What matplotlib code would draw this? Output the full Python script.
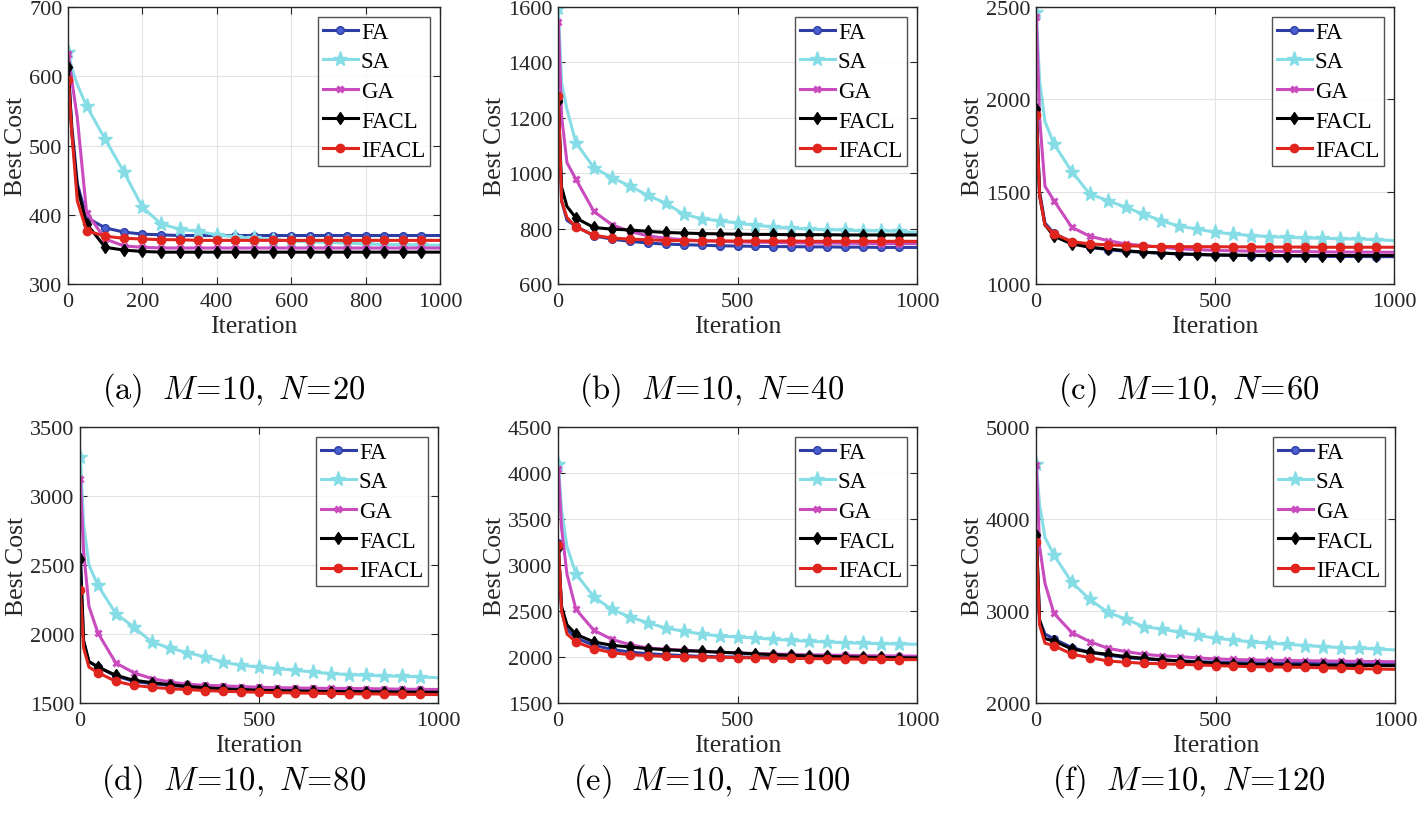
import matplotlib
matplotlib.use("Agg")
import matplotlib.pyplot as plt

plt.rcParams['font.family'] = ['Liberation Serif', 'DejaVu Serif']
plt.rcParams['mathtext.fontset'] = 'cm'

iterations = [1, 10, 25, 50, 100, 150, 200, 250, 300, 350, 400, 450, 500,
              550, 600, 650, 700, 750, 800, 850, 900, 950, 1000]
algorithms = ["FA", "SA", "GA", "FACL", "IFACL"]

# Panel (a) M=10, N=20
a_FA = [605, 530, 445, 396, 381, 375, 372, 371, 370, 370, 370, 370, 370, 370, 370, 370, 370, 370, 370, 370, 370, 370, 370]
a_SA = [635, 612, 588, 557, 509, 462, 411, 387, 379, 376, 371, 368, 366, 364, 362, 361, 360, 359, 358, 357, 357, 356, 356]
a_GA = [632, 595, 540, 403, 365, 355, 353, 352, 352, 352, 352, 352, 352, 352, 352, 352, 352, 352, 352, 352, 352, 352, 352]
a_FACL = [613, 520, 440, 387, 353, 349, 347, 346, 346, 346, 346, 346, 346, 346, 346, 346, 346, 346, 346, 346, 346, 346, 346]
a_IFACL = [595, 520, 420, 377, 369, 366, 365, 364, 364, 363, 363, 363, 363, 363, 363, 363, 363, 363, 363, 363, 363, 363, 363]

# Panel (b) M=10, N=40
b_FA = [1260, 900, 830, 808, 774, 762, 754, 748, 744, 742, 740, 738, 737, 736, 735, 735, 734, 734, 733, 733, 732, 732, 732]
b_SA = [1596, 1326, 1230, 1110, 1020, 984, 954, 920, 892, 852, 836, 828, 820, 812, 806, 802, 798, 796, 795, 792, 792, 790, 786]
b_GA = [1545, 1206, 1038, 978, 862, 814, 790, 774, 765, 760, 756, 754, 752, 751, 750, 749, 748, 748, 747, 747, 746, 746, 746]
b_FACL = [1260, 950, 880, 838, 804, 798, 795, 790, 786, 784, 782, 781, 780, 779, 779, 778, 778, 778, 777, 777, 777, 777, 777]
b_IFACL = [1278, 900, 840, 806, 776, 766, 762, 760, 757, 757, 756, 756, 755, 755, 755, 755, 754, 754, 754, 754, 754, 754, 754]

# Panel (c) M=10, N=60
c_FA = [1922, 1500, 1330, 1275, 1226, 1199, 1186, 1177, 1172, 1167, 1163, 1160, 1157, 1156, 1154, 1153, 1152, 1151, 1150, 1149, 1149, 1148, 1148]
c_SA = [2473, 2100, 1880, 1759, 1609, 1488, 1452, 1416, 1379, 1343, 1313, 1298, 1280, 1271, 1262, 1257, 1253, 1249, 1248, 1244, 1244, 1240, 1235]
c_GA = [2446, 1900, 1530, 1452, 1307, 1259, 1235, 1217, 1208, 1199, 1190, 1186, 1182, 1180, 1178, 1177, 1176, 1175, 1174, 1173, 1173, 1172, 1172]
c_FACL = [1949, 1480, 1320, 1259, 1217, 1199, 1190, 1181, 1172, 1168, 1163, 1160, 1157, 1156, 1155, 1155, 1154, 1154, 1154, 1154, 1154, 1154, 1154]
c_IFACL = [1913, 1480, 1320, 1271, 1230, 1217, 1212, 1208, 1204, 1203, 1202, 1202, 1202, 1201, 1201, 1200, 1200, 1200, 1199, 1199, 1199, 1199, 1199]

# Panel (d) M=10, N=80
d_FA = [2558, 1950, 1800, 1761, 1696, 1657, 1640, 1628, 1616, 1609, 1603, 1598, 1594, 1591, 1589, 1587, 1586, 1585, 1584, 1583, 1582, 1582, 1582]
d_SA = [3283, 2800, 2500, 2353, 2148, 2051, 1942, 1899, 1865, 1834, 1797, 1773, 1761, 1749, 1737, 1725, 1713, 1706, 1701, 1696, 1694, 1689, 1683]
d_GA = [3121, 2600, 2200, 2008, 1790, 1720, 1677, 1653, 1636, 1628, 1624, 1619, 1614, 1611, 1609, 1607, 1606, 1605, 1604, 1602, 1600, 1599, 1598]
d_FACL = [2546, 1950, 1800, 1761, 1701, 1665, 1648, 1633, 1620, 1610, 1602, 1597, 1592, 1589, 1587, 1585, 1583, 1582, 1581, 1580, 1579, 1578, 1578]
d_IFACL = [2317, 1900, 1760, 1720, 1657, 1628, 1614, 1604, 1597, 1590, 1585, 1581, 1578, 1575, 1573, 1571, 1569, 1567, 1566, 1565, 1563, 1562, 1561]

# Panel (e) M=10, N=100
e_FA = [3243, 2500, 2300, 2207, 2127, 2083, 2054, 2036, 2025, 2015, 2007, 2003, 2000, 1997, 1995, 1993, 1991, 1989, 1988, 1987, 1986, 1985, 1985]
e_SA = [4101, 3600, 3200, 2906, 2652, 2518, 2435, 2373, 2315, 2279, 2250, 2228, 2217, 2207, 2192, 2181, 2170, 2163, 2156, 2149, 2145, 2142, 2138]
e_GA = [4040, 3400, 2900, 2518, 2290, 2192, 2134, 2098, 2083, 2073, 2062, 2053, 2044, 2038, 2033, 2028, 2024, 2021, 2018, 2015, 2013, 2011, 2010]
e_FACL = [3185, 2550, 2350, 2247, 2163, 2127, 2109, 2091, 2080, 2070, 2062, 2052, 2044, 2034, 2025, 2018, 2011, 2006, 2002, 1998, 1995, 1992, 1990]
e_IFACL = [3214, 2500, 2250, 2163, 2091, 2047, 2025, 2015, 2007, 2003, 2000, 1996, 1993, 1990, 1988, 1985, 1983, 1980, 1978, 1976, 1974, 1972, 1971]

# Panel (f) M=10, N=120
f_FA = [3824, 2900, 2750, 2696, 2602, 2551, 2522, 2493, 2479, 2467, 2457, 2450, 2443, 2439, 2436, 2434, 2432, 2430, 2428, 2426, 2424, 2422, 2421]
f_SA = [4602, 4150, 3800, 3607, 3311, 3126, 2985, 2913, 2830, 2804, 2770, 2735, 2703, 2685, 2663, 2649, 2638, 2624, 2613, 2602, 2595, 2587, 2577]
f_GA = [4591, 3700, 3300, 2975, 2765, 2667, 2595, 2559, 2530, 2512, 2504, 2490, 2479, 2473, 2468, 2465, 2462, 2459, 2457, 2454, 2452, 2450, 2449]
f_FACL = [3824, 2900, 2700, 2674, 2587, 2551, 2530, 2504, 2486, 2470, 2457, 2444, 2432, 2425, 2420, 2416, 2414, 2412, 2410, 2409, 2408, 2407, 2406]
f_IFACL = [3745, 2850, 2650, 2624, 2530, 2493, 2457, 2443, 2432, 2426, 2421, 2414, 2407, 2400, 2395, 2392, 2390, 2387, 2382, 2378, 2373, 2369, 2366]

captions = [r"$\mathrm{(a)}\ \ M\!=\!10,\ N\!=\!20$", r"$\mathrm{(b)}\ \ M\!=\!10,\ N\!=\!40$",
            r"$\mathrm{(c)}\ \ M\!=\!10,\ N\!=\!60$", r"$\mathrm{(d)}\ \ M\!=\!10,\ N\!=\!80$",
            r"$\mathrm{(e)}\ \ M\!=\!10,\ N\!=\!100$", r"$\mathrm{(f)}\ \ M\!=\!10,\ N\!=\!120$"]

panels = [
    [a_FA, a_SA, a_GA, a_FACL, a_IFACL],
    [b_FA, b_SA, b_GA, b_FACL, b_IFACL],
    [c_FA, c_SA, c_GA, c_FACL, c_IFACL],
    [d_FA, d_SA, d_GA, d_FACL, d_IFACL],
    [e_FA, e_SA, e_GA, e_FACL, e_IFACL],
    [f_FA, f_SA, f_GA, f_FACL, f_IFACL],
]
y_ranges = [(300, 700, 100), (600, 1600, 200), (1000, 2500, 500),
            (1500, 3500, 500), (1500, 4500, 500), (2000, 5000, 1000)]
x_steps = [200, 500, 500, 500, 500, 500]

styles = [
    dict(color="#2e3da3", marker="o", ms=5.5, mfc="#4a5fd0", mec="#2e3da3"),
    dict(color="#86dde6", marker="*", ms=11, mfc="#86dde6", mec="#86dde6"),
    dict(color="#c94bbd", marker="x", ms=4.5, mew=2.2, mec="#c94bbd"),
    dict(color="#000000", marker="d", ms=6.5, mfc="#000000", mec="#000000"),
    dict(color="#e0251e", marker="o", ms=6, mfc="#e0251e", mec="#e0251e"),
]

W, H = 1418, 829
fig = plt.figure(figsize=(W / 100, H / 100), dpi=100)

# axes boxes in pixels: left, right, top, bottom
boxes = [(68, 440, 8, 285), (558, 917, 8, 285), (1036, 1394, 8, 285),
         (80, 438, 428, 704), (558, 917, 428, 704), (1036, 1395, 428, 704)]
cap_pos = [(234, 390), (712, 390), (1189, 390), (234, 781), (712, 781), (1189, 781)]

mark_idx = [0] + list(range(3, 22))

# caption font size chosen so that caption (a) is ~264 px wide
probe = fig.text(0, 0, captions[0], fontsize=20)
fig.canvas.draw()
cap_size = 20 * 264.0 / probe.get_window_extent().width
probe.remove()

for k, (box, series) in enumerate(zip(boxes, panels)):
    l, r, t, b = box
    ax = fig.add_axes([l / W, 1 - b / H, (r - l) / W, (b - t) / H])
    for name, ys, st in zip(algorithms, series, styles):
        ax.plot(iterations, ys, lw=2.2, label=name, markevery=mark_idx, **st)
    y0, y1, ys_ = y_ranges[k]
    ax.set_ylim(y0, y1)
    ax.set_yticks(range(y0, y1 + 1, ys_))
    ax.set_xlim(0, 1000)
    ax.set_xticks(range(0, 1001, x_steps[k]))
    ax.grid(True, color="#e3e3e3", lw=0.8)
    ax.set_axisbelow(True)
    ax.tick_params(direction="in", top=True, right=True, labelsize=16,
                   length=5, width=0.8, colors="#262626")
    ax.tick_params(axis="y", pad=4)
    ax.tick_params(axis="x", pad=5.5)
    for sp in ax.spines.values():
        sp.set_color("#262626")
        sp.set_linewidth(1.0)
    ax.set_xlabel("Iteration", fontsize=18.5, color="#262626", labelpad=3)
    ax.set_ylabel("Best Cost", fontsize=18.5, color="#262626", labelpad=1.5)
    leg = ax.legend(loc="upper right", fontsize=16.5, frameon=True, fancybox=False,
                    edgecolor="#262626", handlelength=1.55, handletextpad=0.12,
                    borderpad=0.2, labelspacing=0.37, borderaxespad=0.45)
    leg.get_frame().set_linewidth(1.0)
    cx, cy = cap_pos[k]
    fig.text(cx / W, 1 - cy / H, captions[k], ha="center", va="center", fontsize=cap_size)

fig.savefig("out.png", dpi=100)
